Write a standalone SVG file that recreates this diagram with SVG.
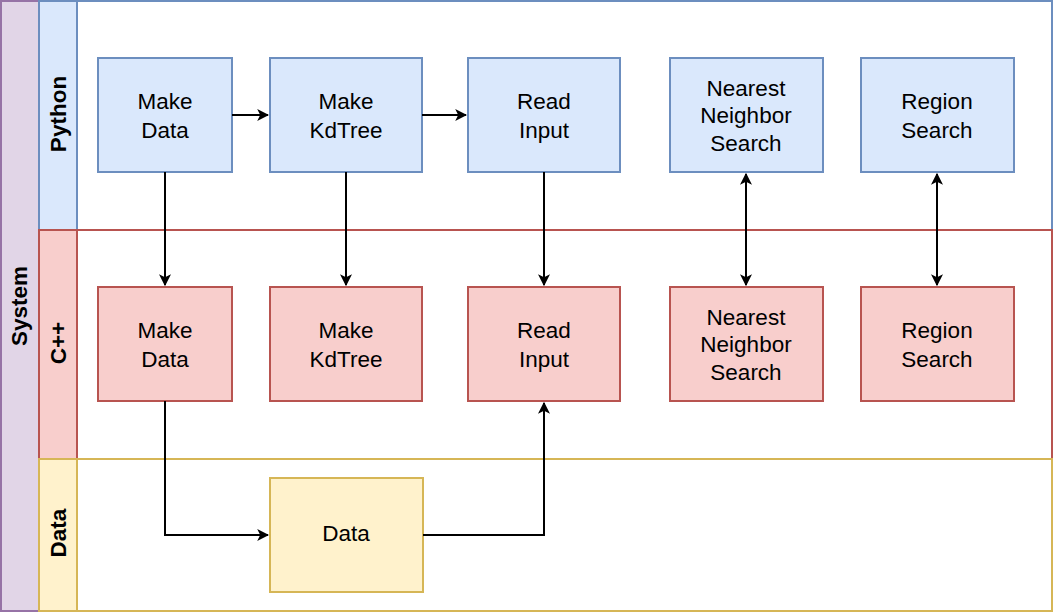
<svg xmlns="http://www.w3.org/2000/svg" width="1055" height="614" viewBox="0 0 1055 614">
<style>
.t{font-family:"Liberation Sans",Arial,sans-serif;font-size:22.5px;fill:#000;text-anchor:middle}
.h{font-family:"Liberation Sans",Arial,sans-serif;font-size:22.5px;font-weight:bold;fill:#000;text-anchor:middle}
.py{fill:#dae8fc;stroke:#6c8ebf;stroke-width:2}
.cp{fill:#f8cecc;stroke:#b85450;stroke-width:2}
.dt{fill:#fff2cc;stroke:#d6b656;stroke-width:2}
.e{fill:none;stroke:#000;stroke-width:2}
</style>
<defs>
<marker id="a" viewBox="0 0 10 10" refX="9" refY="5" markerWidth="6" markerHeight="6" markerUnits="strokeWidth" orient="auto-start-reverse">
<path d="M0,0 L10,5 L0,10 L2.5,5 Z" fill="#000"/>
</marker>
</defs>
<rect width="1055" height="614" fill="#fff"/>
<g id="pool-system">
<rect x="1" y="1" width="1051" height="610" fill="#fff" stroke="#9673a6" stroke-width="2"/>
<rect x="1" y="1" width="38" height="610" fill="#e1d5e7" stroke="#9673a6" stroke-width="2"/>
<text class="h" transform="translate(27,306) rotate(-90)">System</text>
</g>
<g id="lane-python">
<rect x="39" y="1" width="1013" height="229" fill="#fff" stroke="#6c8ebf" stroke-width="2"/>
<rect x="39" y="1" width="38" height="229" class="py"/>
<text class="h" transform="translate(66,114) rotate(-90)">Python</text>
</g>
<g id="lane-cpp">
<rect x="39" y="230" width="1013" height="229" fill="#fff" stroke="#b85450" stroke-width="2"/>
<rect x="39" y="230" width="38" height="229" class="cp"/>
<text class="h" transform="translate(66,343) rotate(-90)">C++</text>
</g>
<g id="lane-data">
<rect x="39" y="459" width="1013" height="152" fill="#fff" stroke="#d6b656" stroke-width="2"/>
<rect x="39" y="459" width="38" height="152" class="dt"/>
<text class="h" transform="translate(66,533) rotate(-90)">Data</text>
</g>
<g id="py-make-data"><rect x="98" y="58" width="134" height="114" class="py"/><text class="t" x="165" y="109">Make</text><text class="t" x="165" y="137.5">Data</text></g>
<g id="py-make-kdtree"><rect x="270" y="58" width="152" height="114" class="py"/><text class="t" x="346" y="109">Make</text><text class="t" x="346" y="137.5">KdTree</text></g>
<g id="py-read-input"><rect x="468" y="58" width="152" height="114" class="py"/><text class="t" x="544" y="109">Read</text><text class="t" x="544" y="137.5">Input</text></g>
<g id="py-nn"><rect x="670" y="58" width="153" height="114" class="py"/><text class="t" x="746" y="95.5">Nearest</text><text class="t" x="746" y="123">Neighbor</text><text class="t" x="746" y="151">Search</text></g>
<g id="py-region"><rect x="861" y="58" width="153" height="114" class="py"/><text class="t" x="937" y="109">Region</text><text class="t" x="937" y="137.5">Search</text></g>
<g id="cpp-make-data"><rect x="98" y="287" width="134" height="114" class="cp"/><text class="t" x="165" y="338">Make</text><text class="t" x="165" y="366.5">Data</text></g>
<g id="cpp-make-kdtree"><rect x="270" y="287" width="152" height="114" class="cp"/><text class="t" x="346" y="338">Make</text><text class="t" x="346" y="366.5">KdTree</text></g>
<g id="cpp-read-input"><rect x="468" y="287" width="152" height="114" class="cp"/><text class="t" x="544" y="338">Read</text><text class="t" x="544" y="366.5">Input</text></g>
<g id="cpp-nn"><rect x="670" y="287" width="153" height="114" class="cp"/><text class="t" x="746" y="324.5">Nearest</text><text class="t" x="746" y="352">Neighbor</text><text class="t" x="746" y="380">Search</text></g>
<g id="cpp-region"><rect x="861" y="287" width="153" height="114" class="cp"/><text class="t" x="937" y="338">Region</text><text class="t" x="937" y="366.5">Search</text></g>
<g id="data-node"><rect x="270" y="478" width="153" height="114" class="dt"/><text class="t" x="346" y="541">Data</text></g>
<g id="connectors">
<path class="e" d="M232,115 H268" marker-end="url(#a)"/>
<path class="e" d="M422,115 H466" marker-end="url(#a)"/>
<path class="e" d="M165,172 V285" marker-end="url(#a)"/>
<path class="e" d="M346,172 V285" marker-end="url(#a)"/>
<path class="e" d="M544,172 V285" marker-end="url(#a)"/>
<path class="e" d="M746,174 V285" marker-start="url(#a)" marker-end="url(#a)"/>
<path class="e" d="M937,174 V285" marker-start="url(#a)" marker-end="url(#a)"/>
<path class="e" d="M165,401 V535 H268" marker-end="url(#a)"/>
<path class="e" d="M423,535 H544 V403" marker-end="url(#a)"/>
</g>
</svg>
